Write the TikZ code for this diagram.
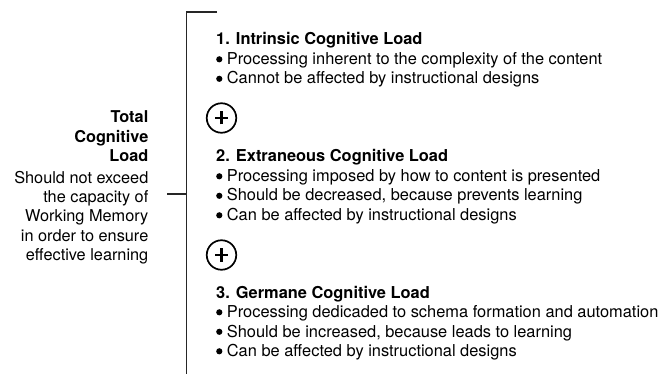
\documentclass[tikz,border=0pt]{standalone}
\usepackage{fontspec}
\setmainfont{TeX Gyre Heros}
\begin{document}
\begin{tikzpicture}[x=1pt,y=-1pt,
  txt/.style={anchor=base west,inner sep=0pt,font=\fontsize{16.4}{19}\selectfont},
  ttl/.style={txt,font=\fontsize{16.4}{19}\selectfont\bfseries},
  lft/.style={anchor=base east,inner sep=0pt,font=\fontsize{16.3}{19}\selectfont},
  lftb/.style={lft,font=\fontsize{16.3}{19}\selectfont\bfseries},
  brk/.style={line width=1.6pt,black!85},
  bul/.style={fill=black},
  plus/.style={circle,draw,line width=1.7pt,minimum size=29.5pt,inner sep=0pt}]
\useasboundingbox (0,0) rectangle (672,374);
% bracket
\coordinate (top) at (186.5,12);
\coordinate (topr) at (217,12);
\coordinate (bot) at (186.5,374);
\coordinate (tick) at (186.5,194);
\coordinate (tickl) at (167,194);
\draw[brk] (topr) -- (top) -- (bot);
\draw[brk] (tickl) -- (tick);
% left text
\node[lftb] (l1) at (148.5,123) {Total};
\node[lftb] (l2) at (148.5,142.5) {Cognitive};
\node[lftb] (l3) at (148.5,162) {Load};
\node[lft] (l4) at (148.5,183.5) {Should not exceed};
\node[lft] (l5) at (148.5,202.7) {the capacity of};
\node[lft] (l6) at (148.5,222) {Working Memory};
\node[lft] (l7) at (148.5,241.2) {in order to ensure};
\node[lft] (l8) at (148.5,260.5) {effective learning};
% block 1
\node[ttl] (t1) at (216,45) {1. Intrinsic Cognitive Load};
\node[txt] (a1) at (226.7,64.5) {Processing inherent to the complexity of the content};
\node[txt] (a2) at (226.7,84) {Cannot be affected by instructional designs};
\node[plus] (p1) at (221.5,118) {};
\draw[line width=2.8pt] ([xshift=-6.5pt]p1.center) -- ([xshift=6.5pt]p1.center);
\draw[line width=2.8pt] ([yshift=-6.5pt]p1.center) -- ([yshift=6.5pt]p1.center);
% block 2
\node[ttl] (t2) at (216,162) {2. Extraneous Cognitive Load};
\node[txt] (b1) at (226.7,181.5) {Processing imposed by how to content is presented};
\node[txt] (b2) at (226.7,201) {Should be decreased, because prevents learning};
\node[txt] (b3) at (226.7,220.5) {Can be affected by instructional designs};
\node[plus] (p2) at (221.5,255) {};
\draw[line width=2.8pt] ([xshift=-6.5pt]p2.center) -- ([xshift=6.5pt]p2.center);
\draw[line width=2.8pt] ([yshift=-6.5pt]p2.center) -- ([yshift=6.5pt]p2.center);
% block 3
\node[ttl] (t3) at (216,298) {3. Germane Cognitive Load};
\node[txt] (c1) at (226.7,317.5) {Processing dedicaded to schema formation and automation};
\node[txt] (c2) at (226.7,337) {Should be increased, because leads to learning};
\node[txt] (c3) at (226.7,356.5) {Can be affected by instructional designs};
% bullets
\foreach \n in {a1,a2,b1,b2,b3,c1,c2,c3}
  \fill[bul] ([xshift=-7.4pt,yshift=5.2pt]\n.base west) circle (3.1pt);
\end{tikzpicture}
\end{document}
